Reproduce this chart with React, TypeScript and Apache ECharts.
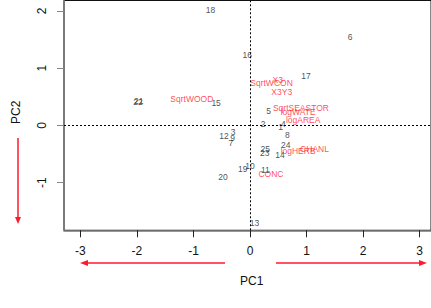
import React, { useEffect, useRef } from "react";
import * as echarts from "echarts";

const xTicks = [-3, -2, -1, 0, 1, 2, 3];
const yTicks = [-1, 0, 1, 2];

const siteNames = ["1", "2", "3", "4", "5", "6", "7", "8", "9", "10", "11", "12", "13", "14", "15", "16", "17", "18", "19", "20", "21", "22", "23", "24", "25"];
const siteX = [0.54, 0.23, -0.3, 0.59, 0.33, 1.77, -0.34, 0.66, -0.31, 0.0, 0.27, -0.46, 0.08, 0.53, -0.6, -0.05, 0.99, -0.7, -0.13, -0.48, -1.97, -1.98, 0.26, 0.63, 0.27];
const siteY = [-0.03, 0.02, -0.12, 0.02, 0.26, 1.54, -0.3, -0.17, -0.22, -0.7, -0.77, -0.19, -1.7, -0.51, 0.39, 1.23, 0.87, 2.01, -0.76, -0.9, 0.42, 0.41, -0.48, -0.34, -0.42];

const varNames = ["SqrtWOOD", "X3", "SqrtWCON", "X3Y3", "SqrtSEASTOR", "logWATE", "logAREA", "logHERB", "CHANL", "CONC"];
const varX = [-1.03, 0.49, 0.38, 0.56, 0.9, 0.85, 0.94, 0.85, 1.14, 0.37];
const varY = [0.46, 0.8, 0.74, 0.58, 0.3, 0.23, 0.1, -0.45, -0.42, -0.84];

const X_MIN = -3.29;
const X_MAX = 3.2;
const Y_MIN = -1.83;
const Y_MAX = 2.18;
const PX_X = 57.5;
const PX_Y = 57.3;

export default function App() {
  const ref = useRef<HTMLDivElement>(null);
  useEffect(() => {
    if (!ref.current) return;
    const chart = echarts.init(ref.current, undefined, { renderer: "svg" });
    const font = "Liberation Sans, Arial, sans-serif";
    const red = "#ff1a30";
    const lbl = {
      show: true,
      position: [0, 0],
      align: "center",
      verticalAlign: "middle",
      formatter: "{b}",
      fontSize: 8.5,
      fontFamily: font,
      textBorderWidth: 0,
    };
    chart.setOption({
      animation: false,
      grid: {
        left: 64,
        top: 0.5,
        width: (X_MAX - X_MIN) * PX_X,
        height: (Y_MAX - Y_MIN) * PX_Y,
        show: true,
        borderColor: "#111",
        borderWidth: 1,
        backgroundColor: "transparent",
      },
      xAxis: {
        type: "value",
        min: X_MIN,
        max: X_MAX,
        splitLine: { show: false },
        axisLine: { show: true, onZero: false, lineStyle: { color: "#777", width: 1.5 } },
        axisTick: { show: true, length: 7, lineStyle: { color: "#222" }, customValues: xTicks },
        axisLabel: { show: true, margin: 15, fontSize: 12, color: "#111", fontFamily: font, customValues: xTicks, formatter: (v: number) => String(v) },
      },
      yAxis: {
        type: "value",
        min: Y_MIN,
        max: Y_MAX,
        splitLine: { show: false },
        axisLine: { show: true, onZero: false, lineStyle: { color: "#777", width: 1.5 } },
        axisTick: { show: true, length: 7, lineStyle: { color: "#888" }, customValues: yTicks },
        axisLabel: { show: true, margin: 16, rotate: 90, fontSize: 12, color: "#111", fontFamily: font, customValues: yTicks, formatter: (v: number) => String(v) },
      },
      series: [
        {
          type: "scatter",
          symbolSize: 0,
          itemStyle: { color: "#ffffff" },
          data: siteNames.map((n, i) => ({ name: n, value: [siteX[i], siteY[i]] })),
          label: { ...lbl, color: "#222" },
          markLine: {
            silent: true,
            symbol: "none",
            label: { show: false },
            lineStyle: { type: [2, 2], color: "#000", width: 1 },
            data: [{ xAxis: 0 }, { yAxis: 0 }],
          },
        },
        {
          type: "scatter",
          symbolSize: 0,
          itemStyle: { color: "#ffffff" },
          data: varNames.map((n, i) => ({ name: n, value: [varX[i], varY[i]] })),
          label: { ...lbl, color: red },
        },
      ],
      graphic: [
        { type: "text", left: 240, top: 275, style: { text: "PC1", fill: "#111", font: "12px " + font } },
        { type: "text", x: 10, y: 124, rotation: Math.PI / 2, style: { text: "PC2", fill: "#111", font: "12px " + font } },
        { type: "line", shape: { x1: 225, y1: 263, x2: 84, y2: 263 }, style: { stroke: red, lineWidth: 1.5 } },
        { type: "polygon", shape: { points: [[80, 263], [88, 260], [88, 266]] }, style: { fill: red } },
        { type: "line", shape: { x1: 276, y1: 263, x2: 423, y2: 263 }, style: { stroke: red, lineWidth: 1.5 } },
        { type: "polygon", shape: { points: [[427, 263], [419, 260], [419, 266]] }, style: { fill: red } },
        { type: "line", shape: { x1: 18, y1: 138, x2: 18, y2: 220 }, style: { stroke: red, lineWidth: 1.5 } },
        { type: "polygon", shape: { points: [[18, 224], [15, 217], [21, 217]] }, style: { fill: red } },
      ],
    });
    return () => chart.dispose();
  }, []);
  return <div ref={ref} style={{ width: 431, height: 308, position: "absolute", left: 0, top: 0 }} />;
}
